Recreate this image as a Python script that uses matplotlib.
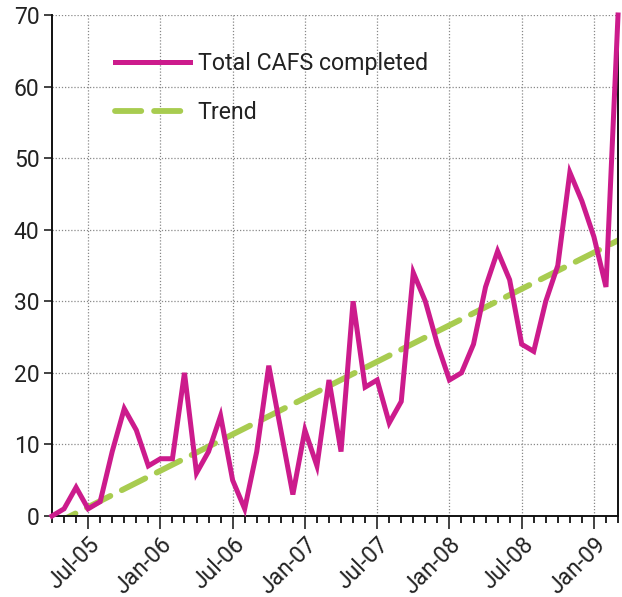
import numpy as np
import matplotlib
matplotlib.use("Agg")
import matplotlib.pyplot as plt
from matplotlib.ticker import MultipleLocator

plt.rcParams['font.family'] = ['Roboto', 'DejaVu Sans']

# monthly data, Apr-05 .. Mar-09
months = ["Apr-05", "May-05", "Jun-05", "Jul-05", "Aug-05", "Sep-05", "Oct-05", "Nov-05",
          "Dec-05", "Jan-06", "Feb-06", "Mar-06", "Apr-06", "May-06", "Jun-06", "Jul-06",
          "Aug-06", "Sep-06", "Oct-06", "Nov-06", "Dec-06", "Jan-07", "Feb-07", "Mar-07",
          "Apr-07", "May-07", "Jun-07", "Jul-07", "Aug-07", "Sep-07", "Oct-07", "Nov-07",
          "Dec-07", "Jan-08", "Feb-08", "Mar-08", "Apr-08", "May-08", "Jun-08", "Jul-08",
          "Aug-08", "Sep-08", "Oct-08", "Nov-08", "Dec-08", "Jan-09", "Feb-09", "Mar-09"]
cafs = [0, 1, 4, 1, 2, 9, 15, 12, 7, 8, 8, 20, 6, 9, 14, 5,
        1, 9, 21, 12, 3, 12, 7, 19, 9, 30, 18, 19, 13, 16, 34, 30,
        24, 19, 20, 24, 32, 37, 33, 24, 23, 30, 35, 48, 44, 39, 32, 70]
trend_months = ["Apr-05", "Mar-09"]
trend_vals = [-1.3, 38.5]
tick_labels = ["Jul-05", "Jan-06", "Jul-06", "Jan-07", "Jul-07", "Jan-08", "Jul-08", "Jan-09"]

magenta = "#CC1B8C"
green = "#A8CC50"

x = np.arange(len(months))
xt = [months.index(m) for m in trend_months]

fig = plt.figure(figsize=(6.22, 5.97), dpi=100)
ax = fig.add_axes([0.0836, 0.1357, 0.9100, 0.8392])

ax.plot(x, cafs, color=magenta, lw=3.6, solid_joinstyle='miter', clip_on=False,
        label="Total CAFS completed", zorder=3)
ax.plot(xt, trend_vals, color=green, lw=4.2, ls=(0, (4.5, 2.2)), dash_capstyle='round',
        label="Trend", zorder=2)

ax.set_xlim(0, len(months) - 1)
ax.set_ylim(0, 70)
ax.set_yticks(range(0, 71, 10))
ax.set_xticks([months.index(m) for m in tick_labels])
ax.set_xticklabels(tick_labels, rotation=45, ha='right', rotation_mode='anchor')
ax.xaxis.set_minor_locator(MultipleLocator(1))

ax.tick_params(axis='both', labelsize=16.5, colors='#222222', direction='out')
ax.tick_params(axis='x', which='major', length=9, width=1.2, pad=3)
ax.tick_params(axis='x', which='minor', length=5, width=1.2)
ax.tick_params(axis='y', which='major', length=6, width=1.2, pad=3)

ax.grid(True, which='major', color='#888888', ls=(0, (1, 1.5)), lw=0.9)
ax.spines['top'].set_visible(False)
for s in ['left', 'bottom', 'right']:
    ax.spines[s].set_linewidth(1.4)
    ax.spines[s].set_color('#111111')

leg = ax.legend(loc='upper left', bbox_to_anchor=(0.075, 0.968), frameon=False,
                fontsize=16.7, handlelength=3.2, handletextpad=0.35, labelspacing=1.13)
for t in leg.get_texts():
    t.set_color('#222222')

fig.savefig("out.png", dpi=100)
